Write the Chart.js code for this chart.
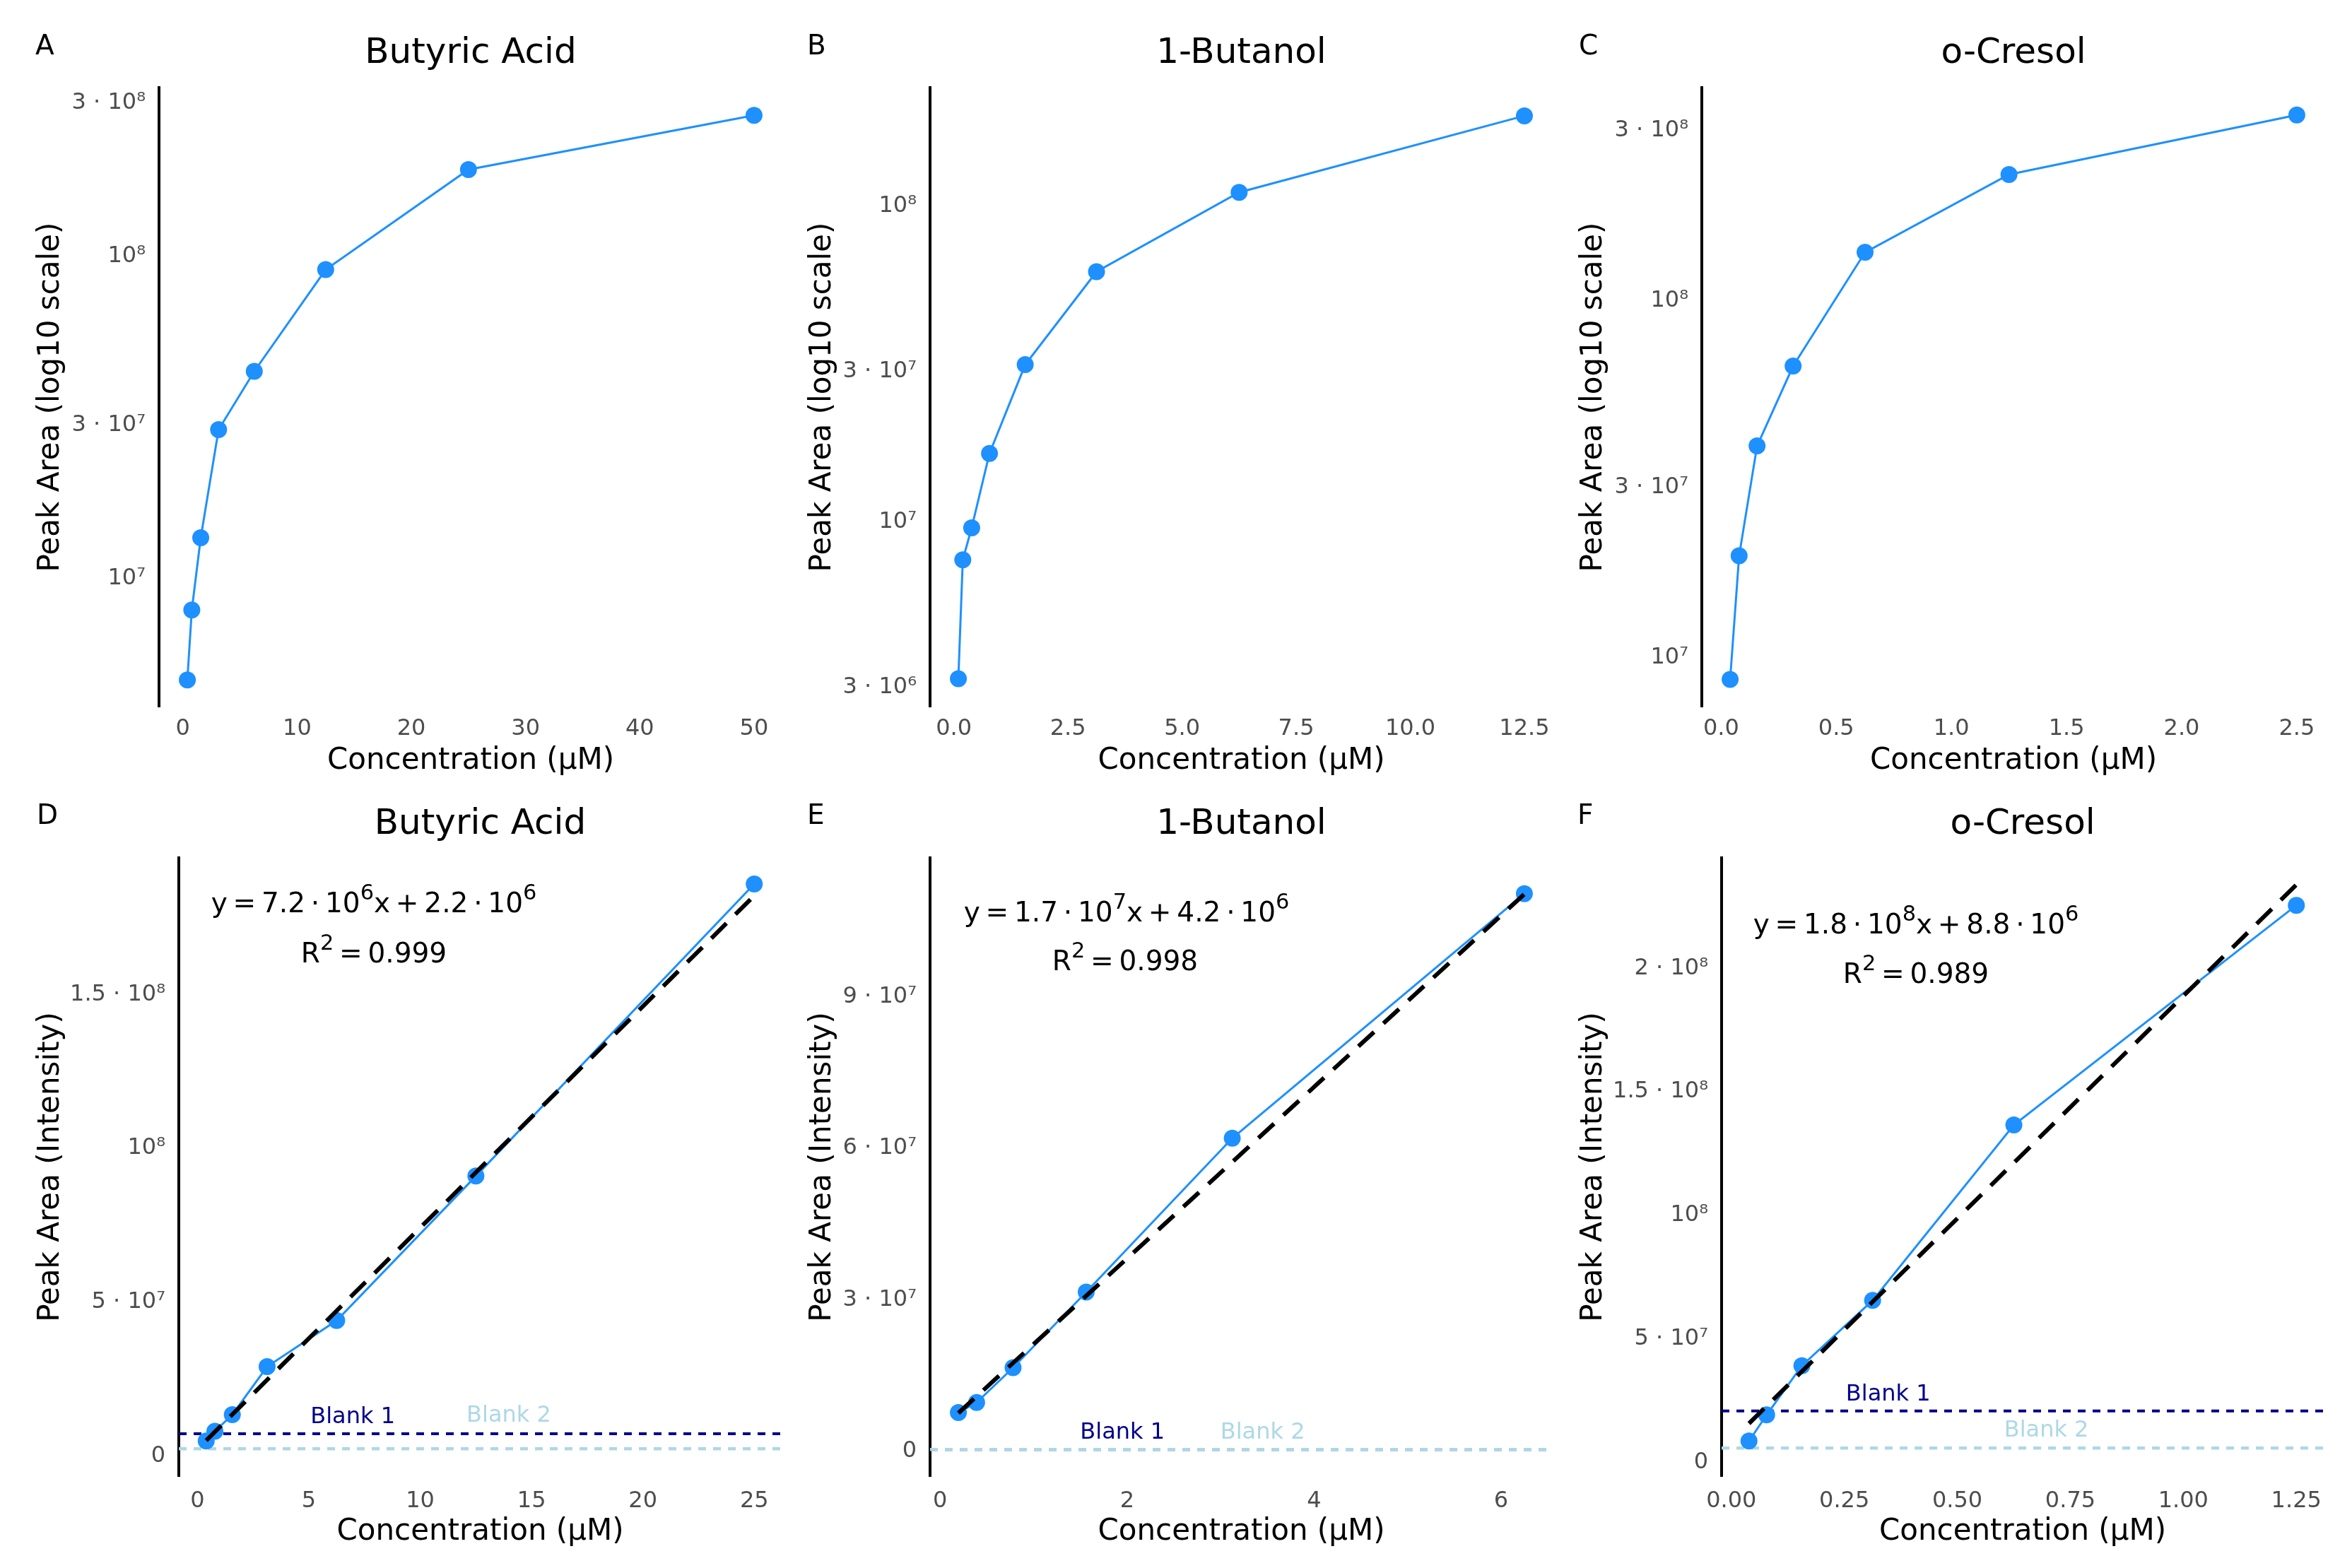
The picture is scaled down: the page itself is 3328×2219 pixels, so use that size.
<!DOCTYPE html>
<html>
<head>
<meta charset="utf-8">
<script src="https://cdn.jsdelivr.net/npm/chart.js@4.4.1/dist/chart.umd.min.js"></script>
<style>
  html, body { margin:0; padding:0; background:#ffffff; }
  body { width:3328px; height:2219px; position:relative; overflow:hidden; font-family:'DejaVu Sans', sans-serif; }
  .panel { position:absolute; }
  .letter { position:absolute; font-size:39px; line-height:40px; color:#000; transform:translateY(-50%); }
  .eq { position:absolute; font-size:39px; line-height:40px; color:#000; white-space:nowrap; transform:translate(-50%,-50%); }
  .eq sup { font-size:0.78em; line-height:0; vertical-align:18px; }
</style>
</head>
<body>
<script>
// ---------------- DATA ----------------
const panelTitles = ['Butyric Acid', '1-Butanol', 'o-Cresol', 'Butyric Acid', '1-Butanol', 'o-Cresol'];
const panelLetters = ['A', 'B', 'C', 'D', 'E', 'F'];

// Full dilution series (log-scale panels)
const concButyric = [0.39, 0.78, 1.5625, 3.125, 6.25, 12.5, 25, 50];
const areaButyric = [4.85e6, 8.0e6, 1.34e7, 2.9e7, 4.4e7, 9.1e7, 1.86e8, 2.74e8];
const concButanol = [0.098, 0.195, 0.39, 0.78, 1.5625, 3.125, 6.25, 12.5];
const areaButanol = [3.2e6, 7.6e6, 9.6e6, 1.65e7, 3.15e7, 6.2e7, 1.105e8, 1.93e8];
const concCresol = [0.039, 0.078, 0.156, 0.3125, 0.625, 1.25, 2.5];
const areaCresol = [8.7e6, 1.93e7, 3.92e7, 6.56e7, 1.366e8, 2.255e8, 3.31e8];

// Linear-range series (calibration panels)
const concButyricLin = [0.39, 0.78, 1.5625, 3.125, 6.25, 12.5, 25];
const areaButyricLin = [4.85e6, 8.0e6, 1.34e7, 2.9e7, 4.4e7, 9.1e7, 1.86e8];
const concButanolLin = [0.195, 0.39, 0.78, 1.5625, 3.125, 6.25];
const areaButanolLin = [7.6e6, 9.6e6, 1.65e7, 3.15e7, 6.2e7, 1.105e8];
const concCresolLin = [0.039, 0.078, 0.156, 0.3125, 0.625, 1.25];
const areaCresolLin = [8.7e6, 1.93e7, 3.92e7, 6.56e7, 1.366e8, 2.255e8];

// Regression fit line endpoints [x, y]
const fitButyric = [[0.39, 5.0e6], [25, 1.822e8]];
const fitButanol = [[0.195, 7.5e6], [6.25, 1.104e8]];
const fitCresol = [[0.039, 1.58e7], [1.25, 2.338e8]];

// Equations
const eqButyric = ['y = 7.2 · 10<sup>6</sup>x + 2.2 · 10<sup>6</sup>', 'R<sup>2</sup> = 0.999'];
const eqButanol = ['y = 1.7 · 10<sup>7</sup>x + 4.2 · 10<sup>6</sup>', 'R<sup>2</sup> = 0.998'];
const eqCresol  = ['y = 1.8 · 10<sup>8</sup>x + 8.8 · 10<sup>6</sup>', 'R<sup>2</sup> = 0.989'];

// Blank levels [Blank 1, Blank 2] and their label anchors [x, y]
const blankNames = ['Blank 1', 'Blank 2'];
const blankButyric = [7.2e6, 2.3e6];
const blankButanol = [3e5, 3e5];
const blankCresol  = [2.09e7, 5.9e6];
const blankLabelButyric = [[6.97, 1.25e7], [13.98, 1.31e7]];
const blankLabelButanol = [[1.95, 3.6e6], [3.45, 3.6e6]];
const blankLabelCresol  = [[0.347, 2.74e7], [0.697, 1.28e7]];

// Ticks
const xTicksA = [0, 10, 20, 30, 40, 50];          const xLabelsA = ['0','10','20','30','40','50'];
const xTicksB = [0, 2.5, 5, 7.5, 10, 12.5];       const xLabelsB = ['0.0','2.5','5.0','7.5','10.0','12.5'];
const xTicksC = [0, 0.5, 1, 1.5, 2, 2.5];         const xLabelsC = ['0.0','0.5','1.0','1.5','2.0','2.5'];
const xTicksD = [0, 5, 10, 15, 20, 25];           const xLabelsD = ['0','5','10','15','20','25'];
const xTicksE = [0, 2, 4, 6];                     const xLabelsE = ['0','2','4','6'];
const xTicksF = [0, 0.25, 0.5, 0.75, 1, 1.25];    const xLabelsF = ['0.00','0.25','0.50','0.75','1.00','1.25'];
const yTicksA = [1e7, 3e7, 1e8, 3e8];             const yLabelsA = ['10⁷','3 · 10⁷','10⁸','3 · 10⁸'];
const yTicksB = [3e6, 1e7, 3e7, 1e8];             const yLabelsB = ['3 · 10⁶','10⁷','3 · 10⁷','10⁸'];
const yTicksC = [1e7, 3e7, 1e8, 3e8];             const yLabelsC = ['10⁷','3 · 10⁷','10⁸','3 · 10⁸'];
const yTicksD = [0, 5e7, 1e8, 1.5e8];             const yLabelsD = ['0','5 · 10⁷','10⁸','1.5 · 10⁸'];
const yTicksE = [0, 3e7, 6e7, 9e7];               const yLabelsE = ['0','3 · 10⁷','6 · 10⁷','9 · 10⁷'];
const yTicksF = [0, 5e7, 1e8, 1.5e8, 2e8];        const yLabelsF = ['0','5 · 10⁷','10⁸','1.5 · 10⁸','2 · 10⁸'];

// Axis ranges
const xRangeA = [-2.09, 52.48];  const yRangeA = [4.01e6, 3.34e8];
const xRangeB = [-0.522, 13.12]; const yRangeB = [2.61e6, 2.37e8];
const xRangeC = [-0.084, 2.623]; const yRangeC = [7.3e6, 3.95e8];
const xRangeD = [-0.84, 26.23];  const yRangeD = [-6.6e6, 1.945e8];
const xRangeE = [-0.108, 6.553]; const yRangeE = [-5.0e6, 1.176e8];
const xRangeF = [-0.0216, 1.3106]; const yRangeF = [-5.5e6, 2.447e8];

const xAxisTitle = 'Concentration (µM)';
const yTitleLog = 'Peak Area (log10 scale)';
const yTitleLin = 'Peak Area (Intensity)';

// ---------------- LAYOUT / STYLE ----------------
const FONT = "'DejaVu Sans', sans-serif";
Chart.defaults.font.family = FONT;
const BLUE = '#1E90FF';
const TICK_GREY = '#4D4D4D';
const BLANK_COLORS = ['#00008B', '#ADD8E6'];

const panels = [
  { i:0, log:true,  L:225,  R:1107, T:124,  B:1000, yT:72,   titleC:76,   xTickOff:32, xTitleOff:77,
    conc:concButyric, area:areaButyric, xr:xRangeA, yr:yRangeA, xt:xTicksA, xl:xLabelsA, yt:yTicksA, yl:yLabelsA, letter:[50,64] },
  { i:1, log:true,  L:1316, R:2197, T:124,  B:1000, yT:1164, titleC:76,   xTickOff:32, xTitleOff:77,
    conc:concButanol, area:areaButanol, xr:xRangeB, yr:yRangeB, xt:xTicksB, xl:xLabelsB, yt:yTicksB, yl:yLabelsB, letter:[1142,64] },
  { i:2, log:true,  L:2408, R:3290, T:124,  B:1000, yT:2255, titleC:76,   xTickOff:32, xTitleOff:77,
    conc:concCresol, area:areaCresol, xr:xRangeC, yr:yRangeC, xt:xTicksC, xl:xLabelsC, yt:yTicksC, yl:yLabelsC, letter:[2234,64] },
  { i:3, log:false, L:253,  R:1106, T:1214, B:2089, yT:72,   titleC:1167, xTickOff:36, xTitleOff:79,
    conc:concButyricLin, area:areaButyricLin, xr:xRangeD, yr:yRangeD, xt:xTicksD, xl:xLabelsD, yt:yTicksD, yl:yLabelsD, letter:[52,1153],
    fit:fitButyric, eq:eqButyric, eqPos:[[529,1278],[529,1349]], blanks:blankButyric, blankLbl:blankLabelButyric },
  { i:4, log:false, L:1316, R:2197, T:1214, B:2089, yT:1164, titleC:1167, xTickOff:36, xTitleOff:79,
    conc:concButanolLin, area:areaButanolLin, xr:xRangeE, yr:yRangeE, xt:xTicksE, xl:xLabelsE, yt:yTicksE, yl:yLabelsE, letter:[1142,1153],
    fit:fitButanol, eq:eqButanol, eqPos:[[1594,1291],[1592,1360]], blanks:blankButanol, blankLbl:blankLabelButanol },
  { i:5, log:false, L:2436, R:3288, T:1214, B:2089, yT:2255, titleC:1167, xTickOff:36, xTitleOff:79,
    conc:concCresolLin, area:areaCresolLin, xr:xRangeF, yr:yRangeF, xt:xTicksF, xl:xLabelsF, yt:yTicksF, yl:yLabelsF, letter:[2232,1153],
    fit:fitCresol, eq:eqCresol, eqPos:[[2711,1308],[2711,1378]], blanks:blankCresol, blankLbl:blankLabelCresol }
];

const TITLE_BOX = 125;
const XAXIS_H = 125;
const RIGHT_PAD = 40;

function makePanel(p) {
  const canvasLeft = p.yT - 40;
  const top = p.T - TITLE_BOX;
  const width = p.R - canvasLeft + RIGHT_PAD;
  const height = TITLE_BOX + (p.B - p.T) + XAXIS_H;
  const titleY = p.titleC - top;

  const div = document.createElement('div');
  div.className = 'panel';
  div.style.left = canvasLeft + 'px';
  div.style.top = top + 'px';
  div.style.width = width + 'px';
  div.style.height = height + 'px';
  const cv = document.createElement('canvas');
  cv.width = width; cv.height = height;
  cv.style.width = width + 'px'; cv.style.height = height + 'px';
  div.appendChild(cv);
  document.body.appendChild(div);

  const datasets = [];
  if (p.fit) {
    datasets.push({
      label: 'fit',
      data: p.fit.map(d => ({ x: d[0], y: d[1] })),
      borderColor: '#000000', borderWidth: 6, borderDash: [30, 18],
      pointRadius: 0, fill: false, tension: 0, order: 0, borderCapStyle: 'butt'
    });
  }
  datasets.push({
    label: panelTitles[p.i],
    data: p.conc.map((c, k) => ({ x: c, y: p.area[k] })),
    borderColor: BLUE, borderWidth: 3,
    pointRadius: 12, pointHoverRadius: 12, pointBackgroundColor: BLUE, pointBorderWidth: 0,
    fill: false, tension: 0, order: 1
  });

  const extras = {
    id: 'extras' + p.i,
    beforeDatasetsDraw(chart) {
      if (!p.blanks) return;
      const ctx = chart.ctx, a = chart.chartArea, ys = chart.scales.y;
      ctx.save();
      p.blanks.forEach((v, k) => {
        const y = ys.getPixelForValue(v);
        ctx.beginPath();
        ctx.strokeStyle = BLANK_COLORS[k];
        ctx.lineWidth = k === 0 ? 4 : 4.5;
        ctx.setLineDash([11, 10]);
        ctx.moveTo(a.left, y); ctx.lineTo(a.right, y);
        ctx.stroke();
      });
      ctx.restore();
    },
    afterDatasetsDraw(chart) {
      const ctx = chart.ctx, a = chart.chartArea;
      ctx.save();
      // panel title centred over the plotting area
      ctx.font = '50px ' + FONT;
      ctx.fillStyle = '#000000';
      ctx.textAlign = 'center';
      ctx.textBaseline = 'middle';
      ctx.fillText(panelTitles[p.i], (a.left + a.right) / 2, titleY);
      if (p.blankLbl) {
        const xs = chart.scales.x, ys = chart.scales.y;
        ctx.font = '32px ' + FONT;
        p.blankLbl.forEach((pt, k) => {
          ctx.fillStyle = BLANK_COLORS[k];
          ctx.fillText(blankNames[k], xs.getPixelForValue(pt[0]), ys.getPixelForValue(pt[1]));
        });
      }
      ctx.restore();
    }
  };

  new Chart(cv, {
    type: 'line',
    data: { datasets },
    plugins: [extras],
    options: {
      responsive: false,
      animation: false,
      events: [],
      layout: { padding: { left: 0, right: RIGHT_PAD, top: TITLE_BOX, bottom: 0 } },
      plugins: {
        legend: { display: false },
        tooltip: { enabled: false },
        title: { display: false }
      },
      scales: {
        x: {
          type: 'linear', min: p.xr[0], max: p.xr[1], bounds: 'data',
          border: { display: false },
          grid: { display: false, drawTicks: false },
          ticks: {
            color: TICK_GREY, font: { size: 32, family: FONT }, padding: p.xTickOff - 19.2,
            maxRotation: 0, minRotation: 0, autoSkip: false,
            callback: (v, idx) => p.xl[idx]
          },
          afterBuildTicks: s => { s.ticks = p.xt.map(v => ({ value: v })); },
          afterFit: s => { s.height = XAXIS_H; },
          title: {
            display: true, text: xAxisTitle, color: '#000000',
            font: { size: 42, family: FONT, lineHeight: 1.2 },
            padding: { top: 0, bottom: XAXIS_H - p.xTitleOff - 25.2 }
          }
        },
        y: {
          type: p.log ? 'logarithmic' : 'linear', min: p.yr[0], max: p.yr[1], bounds: 'data',
          border: { display: true, color: '#000000', width: 4 },
          grid: { display: false, drawTicks: false },
          ticks: {
            color: TICK_GREY, font: { size: 32, family: FONT }, padding: 19,
            autoSkip: false,
            callback: (v, idx) => p.yl[idx]
          },
          afterBuildTicks: s => { s.ticks = p.yt.map(v => ({ value: v })); },
          afterFit: s => { s.width = p.L - canvasLeft; },
          title: {
            display: true, text: p.log ? yTitleLog : yTitleLin, color: '#000000',
            font: { size: 42, family: FONT, lineHeight: 1.2 },
            padding: { top: 40 - 25.2, bottom: 0 }
          }
        }
      }
    }
  });

  const lt = document.createElement('div');
  lt.className = 'letter';
  lt.style.left = p.letter[0] + 'px';
  lt.style.top = p.letter[1] + 'px';
  lt.textContent = panelLetters[p.i];
  document.body.appendChild(lt);

  if (p.eq) {
    p.eq.forEach((html, k) => {
      const e = document.createElement('div');
      e.className = 'eq';
      e.style.left = p.eqPos[k][0] + 'px';
      e.style.top = p.eqPos[k][1] + 'px';
      e.innerHTML = html.replace(/ · /g, '\u2009·\u2009').replace(/ = /g, '\u2009=\u2009').replace(/ \+ /g, '\u2009+\u2009');
      document.body.appendChild(e);
    });
  }
}

panels.forEach(makePanel);
</script>
</body>
</html>
